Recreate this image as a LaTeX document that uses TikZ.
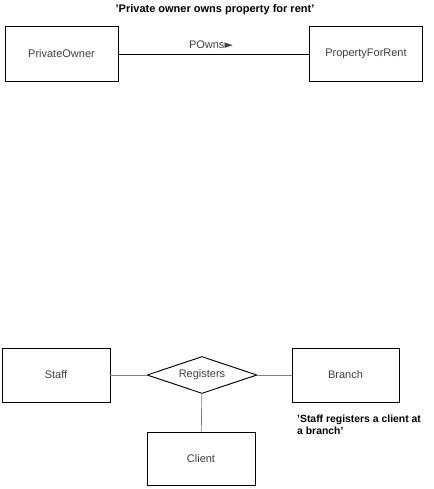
\documentclass[tikz,border=0pt]{standalone}
\usepackage{fontspec}
\setmainfont{Liberation Sans}
\newfontfamily\dejavu{DejaVu Sans}
\usetikzlibrary{shapes.geometric}
\begin{document}
\begin{tikzpicture}[x=1pt,y=-1pt,
  entity/.style={draw=black, line width=0.9pt, fill=white, inner sep=0pt, text=black!75,
    font=\fontsize{11}{13}\selectfont},
  rel/.style={draw=black, line width=0.9pt, shape=diamond, aspect=2.97, inner sep=0pt,
    minimum width=110pt, minimum height=37pt, text=black!75, font=\fontsize{11}{13}\selectfont},
  note/.style={font=\bfseries\fontsize{10.4}{12}\selectfont, inner sep=0pt, text=black},
  link/.style={draw=black!50, line width=0.7pt},
  mainlink/.style={draw=black, line width=0.8pt}]
\useasboundingbox (0,0) rectangle (433,489);
% top
\node[note, font=\bfseries\fontsize{11}{13}\selectfont] (title) at (215,10) {'Private owner owns property for rent'};
\node[entity, minimum width=113pt, minimum height=55pt] (po) at (61.5,54) {PrivateOwner};
\node[entity, minimum width=113pt, minimum height=55pt] (pfr) at (366,54) {PropertyForRent};
\draw[mainlink] (po) -- (pfr);
\node[inner sep=0pt, text=black!75, font=\fontsize{11}{13}\selectfont] (powns) at (211,45) {POwns{\dejavu\fontsize{11}{13}\selectfont ►}};
% bottom
\node[entity, minimum width=108pt, minimum height=54pt] (staff) at (56,375) {Staff};
\node[entity, minimum width=107pt, minimum height=54pt] (branch) at (345.5,375) {Branch};
\node[rel] (reg) at (202,375) {Registers};
\node[entity, minimum width=108pt, minimum height=53pt] (client) at (201,458.5) {Client};
\draw[link] (staff) -- (reg);
\draw[link] (reg) -- (branch);
\draw[link] (reg) -- (client);
\node[note, align=left, anchor=north west] (note2) at (297,415) {'Staff registers a client at\\a branch'};
\end{tikzpicture}
\end{document}
